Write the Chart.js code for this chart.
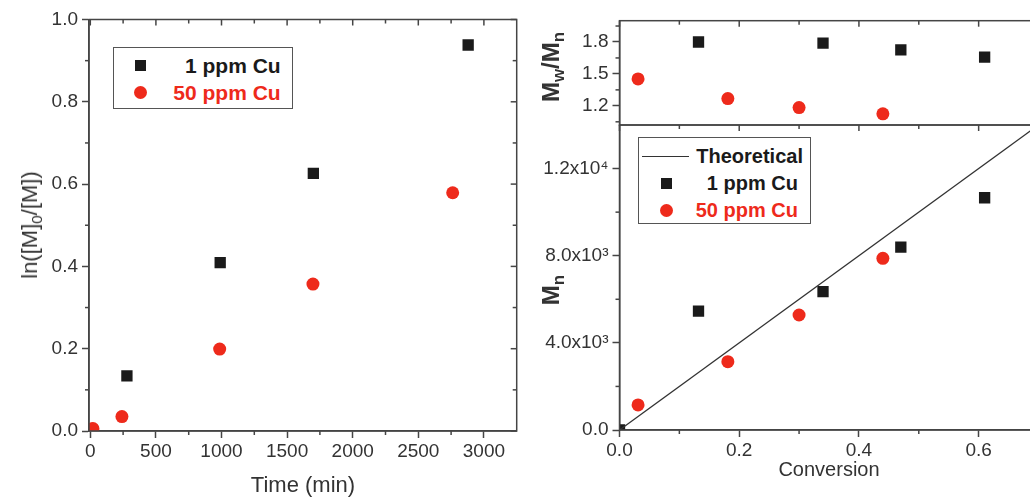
<!DOCTYPE html>
<html lang="en">
<head>
<meta charset="UTF-8">
<script src="https://cdn.jsdelivr.net/npm/chart.js"></script>
<title>Kinetics and molecular weight</title>
<style>
  html, body { margin: 0; padding: 0; background: #fff; }
  body { width: 1030px; height: 497px; overflow: hidden; position: relative;
         font-family: "Liberation Sans", Arial, sans-serif; color: #333; }
  canvas { position: absolute; }
  .title { position: absolute; white-space: nowrap; transform: translate(-50%, -50%); line-height: 1; }
  .rot { transform: translate(-50%, -50%) rotate(-90deg); }
  sub { font-size: 70%; vertical-align: -0.3em; line-height: 0; }
  .legend { position: absolute; border: 1.5px solid #555; background: #fff; box-sizing: border-box; }
  .txt { position: absolute; font-weight: bold; white-space: nowrap; height: 24px; line-height: 24px; margin-top: -12px; }
  .sq { position: absolute; width: 11px; height: 11px; margin: -5.5px 0 0 -5.5px; background: #1a1a1a; }
  .dot { position: absolute; width: 13px; height: 13px; margin: -6.5px 0 0 -6.5px; border-radius: 50%; background: #ee2a1b; }
  .ln { position: absolute; height: 0; border-top: 1.3px solid #333; }
</style>
</head>
<body>
<canvas id="left" width="530" height="497" style="left:0;top:0"></canvas>
<canvas id="pdi" width="530" height="145" style="left:530px;top:0"></canvas>
<canvas id="mn" width="530" height="392" style="left:530px;top:105px"></canvas>

<div class="title rot" style="left:30px;top:225px;font-size:22px">ln([M]<sub>0</sub>/[M])</div>
<div class="title" style="left:303px;top:485px;font-size:22px">Time (min)</div>
<div class="title rot" style="left:551px;top:67px;font-size:24px;font-weight:bold">M<sub>w</sub>/M<sub>n</sub></div>
<div class="title rot" style="left:551px;top:290px;font-size:24px;font-weight:bold">M<sub>n</sub></div>
<div class="title" style="left:829px;top:469px;font-size:20px">Conversion</div>

<div class="legend" style="left:112.7px;top:46.7px;width:180px;height:62.6px;font-size:21px">
  <div class="sq" style="left:27.3px;top:18.3px"></div>
  <div class="txt" id="lg1" style="right:11px;top:18.3px;color:#1a1a1a"></div>
  <div class="dot" style="left:27.3px;top:45.3px"></div>
  <div class="txt" id="lg2" style="right:11px;top:45.3px;color:#ee2a1b"></div>
</div>
<div class="legend" style="left:638.3px;top:137.3px;width:172.7px;height:87px;font-size:20px">
  <div class="ln" style="left:2.7px;width:47px;top:17.7px"></div>
  <div class="txt" id="lg3" style="right:7px;top:17.7px;color:#1a1a1a"></div>
  <div class="sq" style="left:27.7px;top:45px"></div>
  <div class="txt" id="lg4" style="right:12px;top:45px;color:#1a1a1a"></div>
  <div class="dot" style="left:27.7px;top:72px"></div>
  <div class="txt" id="lg5" style="right:12px;top:72px;color:#ee2a1b"></div>
</div>

<script>
// ---- data ----
var label1 = '1 ppm Cu'
var label50 = '50 ppm Cu'
var labelTheo = 'Theoretical'

// left panel: ln([M]0/[M]) vs time
var time1 = [279, 990, 1700, 2880]
var lnRatio1 = [0.134, 0.409, 0.626, 0.938]
var time50 = [20, 241, 986, 1697, 2762]
var lnRatio50 = [0.006, 0.035, 0.199, 0.357, 0.579]
var timeTicks = [0, 500, 1000, 1500, 2000, 2500, 3000]
var timeMinor = [250, 750, 1250, 1750, 2250, 2750]
var lnTicks = [0, 0.2, 0.4, 0.6, 0.8, 1.0]
var lnMinor = [0.1, 0.3, 0.5, 0.7, 0.9]

// right panels: conversion of each sample
var conv1 = [0.132, 0.34, 0.47, 0.61]
var conv50 = [0.031, 0.181, 0.30, 0.44]
var pdi1 = [1.80, 1.79, 1.725, 1.657]
var pdi50 = [1.453, 1.268, 1.184, 1.125]
var pdiTicks = [1.2, 1.5, 1.8]
var pdiMinor = [1.05, 1.35, 1.65, 1.95]

var mnConv1 = [0.0, 0.132, 0.34, 0.47, 0.61]
var mn1 = [0, 5460, 6350, 8390, 10660]
var mn50 = [1150, 3135, 5280, 7880]
var theoConv = [0, 0.7]
var theoMn = [0, 14000]
var convTicks = [0, 0.2, 0.4, 0.6]
var convMinor = [0.1, 0.3, 0.5]
var mnTicks = [0, 4000, 8000, 12000]
var mnTickLabels = ['0.0', '4.0x10³', '8.0x10³', '1.2x10⁴']
var mnMinor = [2000, 6000, 10000]

document.getElementById('lg1').textContent = label1
document.getElementById('lg2').textContent = label50
document.getElementById('lg3').textContent = labelTheo
document.getElementById('lg4').textContent = label1
document.getElementById('lg5').textContent = label50

// ---- helpers ----
var AXIS = '#454545'
var BLACK = '#1a1a1a'
var RED = '#ee2a1b'
Chart.defaults.font.family = '"Liberation Sans", Arial, sans-serif'
Chart.defaults.color = '#333'

function pts(xs, ys) {
    return xs.map(function (x, i) { return { x: x, y: ys[i] } })
}

function squares(label, xs, ys) {
    return { label: label, data: pts(xs, ys), pointStyle: 'rect', pointRadius: 8, borderWidth: 0,
             backgroundColor: BLACK, borderColor: BLACK, clip: 0 }
}
function circles(label, xs, ys) {
    return { label: label, data: pts(xs, ys), pointStyle: 'circle', pointRadius: 6.5, borderWidth: 0,
             backgroundColor: RED, borderColor: RED, clip: 0 }
}

// axis with only the major ticks drawn by Chart.js; minor + mirror ticks by the frame plugin
function axis(min, max, majors, fmt, size, pad, show) {
    return {
        type: 'linear', min: min, max: max, display: show !== false,
        afterBuildTicks: function (s) { s.ticks = majors.map(function (v) { return { value: v } }) },
        afterFit: function (s) { if (s.isHorizontal()) s.height = size; else s.width = size },
        ticks: { font: { size: 19 }, color: '#333', padding: pad, maxRotation: 0, autoSkip: false, callback: fmt },
        grid: { drawOnChartArea: false, tickLength: 7, tickWidth: 1.5, tickColor: AXIS, color: AXIS },
        border: { color: AXIS, width: 1.5 }
    }
}

var frame = {
    id: 'frame',
    afterDraw: function (chart, args, o) {
        var ctx = chart.ctx, a = chart.chartArea, x = chart.scales.x, y = chart.scales.y
        ctx.save()
        ctx.strokeStyle = AXIS
        ctx.lineWidth = 1.5
        ctx.strokeRect(a.left, a.top, a.right - a.left, a.bottom - a.top)
        function seg(x1, y1, x2, y2) { ctx.beginPath(); ctx.moveTo(x1, y1); ctx.lineTo(x2, y2); ctx.stroke() }
        o.xMinor.forEach(function (v) {
            var p = x.getPixelForValue(v)
            if (o.outBottom) seg(p, a.bottom, p, a.bottom + 4)
            if (o.inTop) seg(p, a.top, p, a.top + 4)
        })
        if (o.inTop) o.xMajor.forEach(function (v) { var p = x.getPixelForValue(v); seg(p, a.top, p, a.top + 6) })
        o.yMinor.forEach(function (v) {
            var p = y.getPixelForValue(v)
            seg(a.left - 4, p, a.left, p)
            if (o.inRight) seg(a.right, p, a.right - 4, p)
        })
        if (o.inRight) o.yMajor.forEach(function (v) { var p = y.getPixelForValue(v); seg(a.right, p, a.right - 6, p) })
        ctx.restore()
    }
}

function base(padding, scales, frameOpts) {
    return {
        responsive: false, animation: false, devicePixelRatio: 1,
        layout: { padding: padding },
        plugins: { legend: { display: false }, tooltip: { enabled: false }, frame: frameOpts },
        scales: scales
    }
}

var one = function (v) { return v.toFixed(1) }

// ---- left: ln([M]0/[M]) vs time ----
new Chart(document.getElementById('left'), {
    type: 'scatter',
    data: { datasets: [squares(label1, time1, lnRatio1), circles(label50, time50, lnRatio50)] },
    options: base({ left: 0, top: 19.5, right: 13.3, bottom: 0 }, {
        x: axis(-10, 3250, timeTicks, function (v) { return String(v) }, 66, 2),
        y: axis(0, 1, lnTicks, one, 89, 4)
    }, { xMajor: timeTicks, xMinor: timeMinor, yMajor: lnTicks, yMinor: lnMinor,
         outBottom: true, inTop: true, inRight: true }),
    plugins: [frame]
})

// ---- right top: Mw/Mn vs conversion ----
new Chart(document.getElementById('pdi'), {
    type: 'scatter',
    data: { datasets: [squares(label1, conv1, pdi1), circles(label50, conv50, pdi50)] },
    options: base({ left: 0, top: 20.7, right: 21.5, bottom: 20 }, {
        x: axis(0, 0.7, convTicks, one, 0, 2, false),
        y: axis(1.02, 2.0, pdiTicks, one, 89.5, 4)
    }, { xMajor: convTicks, xMinor: convMinor, yMajor: pdiTicks, yMinor: pdiMinor,
         outBottom: false, inTop: true, inRight: false }),
    plugins: [frame]
})

// ---- right bottom: Mn vs conversion ----
new Chart(document.getElementById('mn'), {
    type: 'scatter',
    data: { datasets: [
        { label: labelTheo, data: pts(theoConv, theoMn), showLine: true, borderColor: '#333',
          borderWidth: 1.3, pointRadius: 0, clip: 0 },
        squares(label1, mnConv1, mn1),
        circles(label50, conv50, mn50)
    ] },
    options: base({ left: 0, top: 20, right: 21.5, bottom: 0 }, {
        x: axis(0, 0.7, convTicks, one, 67, 2),
        y: axis(0, 14000, mnTicks, function (v, i) { return mnTickLabels[i] }, 89.5, 4)
    }, { xMajor: convTicks, xMinor: convMinor, yMajor: mnTicks, yMinor: mnMinor,
         outBottom: true, inTop: true, inRight: false }),
    plugins: [frame]
})
</script>
</body>
</html>
